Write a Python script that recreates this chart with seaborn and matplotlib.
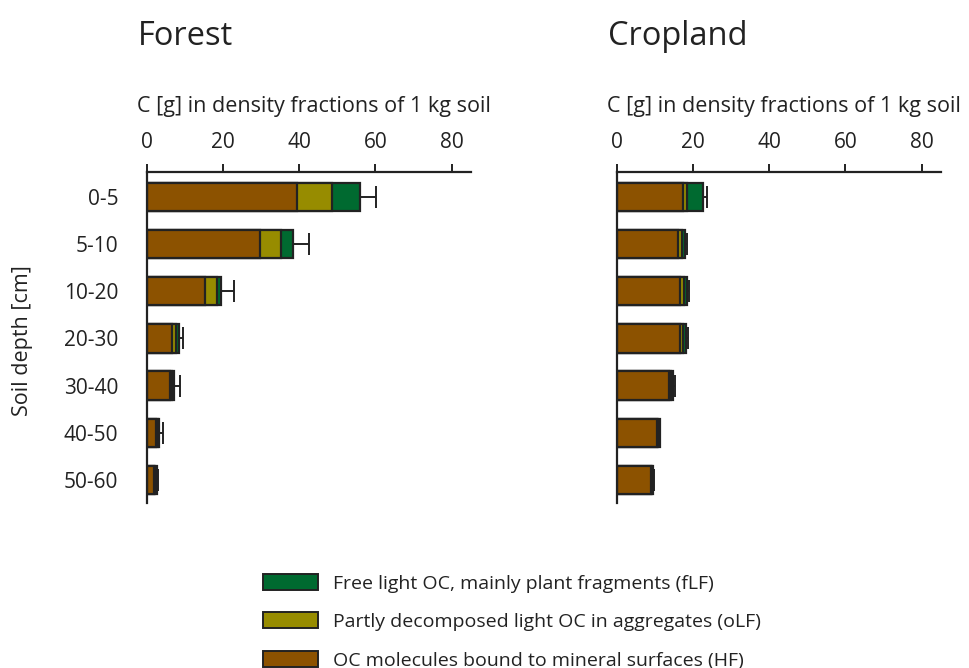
import matplotlib
matplotlib.use("Agg")
import matplotlib.pyplot as plt
import matplotlib.patches as mpatches
import seaborn as sns
import pandas as pd
import numpy as np

# soil depth classes (cm)
depths = ['0-5', '5-10', '10-20', '20-30', '30-40', '40-50', '50-60']

# Forest, C [g] per kg soil
forest_hf = [39.4, 29.7, 15.3, 6.6, 6.0, 2.4, 1.9]
forest_olf = [9.3, 5.6, 3.2, 1.1, 0.6, 0.5, 0.4]
forest_flf = [7.3, 3.0, 0.9, 0.8, 0.6, 0.4, 0.4]
forest_err = [4.2, 4.4, 3.5, 0.9, 1.5, 1.1, 0.3]

# Cropland, C [g] per kg soil
crop_hf = [17.3, 16.2, 16.6, 16.5, 13.7, 10.5, 9.0]
crop_olf = [1.2, 0.9, 1.1, 1.0, 0.6, 0.3, 0.3]
crop_flf = [4.2, 0.9, 0.7, 0.8, 0.4, 0.5, 0.3]
crop_err = [0.9, 0.5, 0.5, 0.5, 0.7, 0.1, 0.2]

labels = ['Free light OC, mainly plant fragments (fLF)',
          'Partly decomposed light OC in aggregates (oLF)',
          'OC molecules bound to mineral surfaces (HF)']
colors = ['#006a30', '#978c00', '#8c5200']
edge = '#222222'

sns.set_style('white')
plt.rcParams['font.family'] = ['Open Sans', 'DejaVu Sans']
plt.rcParams['text.color'] = '#222222'
plt.rcParams['axes.labelcolor'] = '#222222'
plt.rcParams['xtick.color'] = '#222222'
plt.rcParams['ytick.color'] = '#222222'


def panel(ax, hf, olf, flf, err, title, show_labels):
    df = pd.DataFrame({'Depth': depths, 'HF': hf, 'oLF': olf, 'fLF': flf, 'err': err})
    df['HF_oLF'] = df['HF'] + df['oLF']
    df['Total'] = df['HF_oLF'] + df['fLF']

    # stacked bars: draw the cumulative totals from the back to the front
    for col, c in zip(['Total', 'HF_oLF', 'HF'], colors):
        sns.barplot(data=df, y='Depth', x=col, order=depths, orient='h', color=c,
                    width=0.6, edgecolor=edge, linewidth=1.6, saturation=1, ax=ax)

    ypos = np.arange(len(depths))
    ax.errorbar(df['Total'], ypos, xerr=[np.zeros(len(depths)), df['err']],
                fmt='none', ecolor=edge, elinewidth=1.4, capsize=8, capthick=1.4)

    ax.set_xlim(0, 85)
    ax.set_ylim(6.49, -0.53)
    ax.set_xticks([0, 20, 40, 60, 80])
    ax.xaxis.tick_top()
    ax.xaxis.set_label_position('top')
    ax.set_xlabel('C [g] in density fractions of 1 kg soil', loc='left', fontsize=15.5, labelpad=14)
    ax.xaxis.label.set_x(-0.03)

    for s in ['right', 'bottom']:
        ax.spines[s].set_visible(False)
    for s in ['top', 'left']:
        ax.spines[s].set_linewidth(1.6)
        ax.spines[s].set_color(edge)
    ax.tick_params(axis='x', direction='out', length=6, width=1.4, pad=8, labelsize=15)
    ax.tick_params(axis='y', direction='out', length=6.5, width=1.4, pad=14, labelsize=15)

    if show_labels:
        ax.set_ylabel('Soil depth [cm]', fontsize=15.5)
        ax.yaxis.set_label_coords(-0.352, 0.49)
    else:
        ax.set_ylabel('')
        ax.set_yticklabels([])

    # panel title, well above the axis label
    ax.text(-0.027, 1.0 + 127 / 331, title, transform=ax.transAxes, fontsize=23.5,
            ha='left', va='baseline')


fig = plt.figure(figsize=(9.69, 6.68), dpi=100)
ax1 = fig.add_axes([0.1514, 0.247, 0.3344, 0.4955])
ax2 = fig.add_axes([0.6364, 0.247, 0.3344, 0.4955])
panel(ax1, forest_hf, forest_olf, forest_flf, forest_err, 'Forest', True)
panel(ax2, crop_hf, crop_olf, crop_flf, crop_err, 'Cropland', False)

handles = [mpatches.Patch(facecolor=c, edgecolor=edge, linewidth=1.4) for c in colors]
fig.legend(handles, labels, loc='upper left', bbox_to_anchor=(263 / 969, 1 - 574 / 668),
           frameon=False, fontsize=14, handlelength=2.83, handleheight=0.88,
           handletextpad=0.75, labelspacing=1.02, borderpad=0, borderaxespad=0)

fig.savefig('out.png', dpi=100)
